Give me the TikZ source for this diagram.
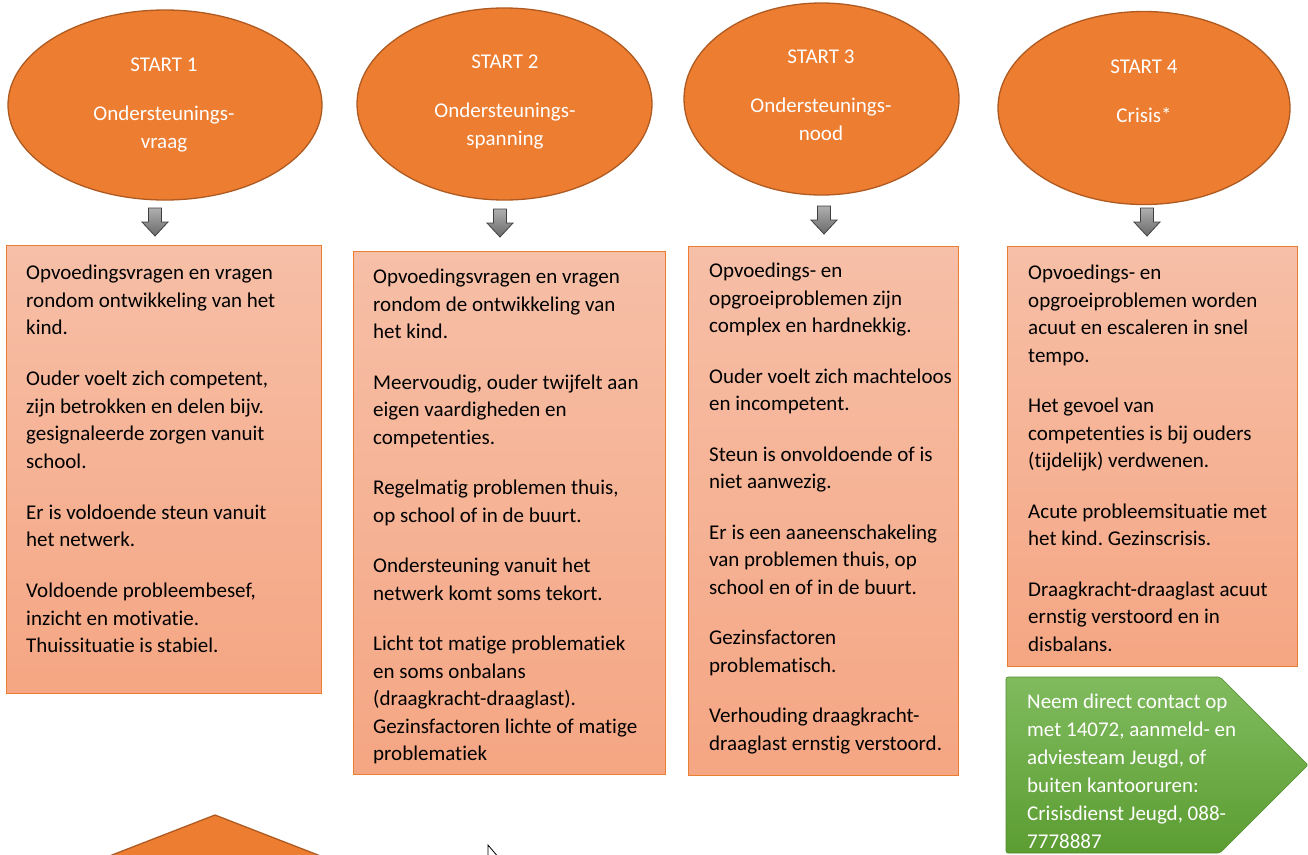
\documentclass[tikz,border=0pt]{standalone}
\usepackage{fontspec}
\setmainfont{Carlito}[Ligatures={NoCommon}]
\usetikzlibrary{shapes.geometric,calc}
\frenchspacing
\definecolor{orng}{HTML}{ED7D31}
\definecolor{orngdark}{HTML}{AE5A21}
\definecolor{boxtop}{RGB}{246,191,167}
\definecolor{boxbot}{RGB}{245,166,131}
\definecolor{boxline}{HTML}{ED7D31}
\definecolor{grntop}{RGB}{128,187,94}
\definecolor{grnbot}{RGB}{92,157,50}
\definecolor{arrtop}{RGB}{175,175,175}
\definecolor{arrbot}{RGB}{105,105,105}
\tikzset{
 ell/.style={ellipse, draw=orngdark, line width=1.3pt, fill=orng, inner sep=0pt},
 ellt/.style={text=white, align=center, inner sep=0pt, anchor=north, font=\fontsize{21}{28}\selectfont},
 boxr/.style={draw=boxline, line width=1pt, top color=boxtop, bottom color=boxbot, anchor=north west, inner sep=0pt},
 boxt/.style={align=left, inner sep=0pt, anchor=north west, text=black, font=\fontsize{21}{27.5}\selectfont},
 grnt/.style={align=left, inner sep=0pt, anchor=north west, text=white, font=\fontsize{21}{28}\selectfont},
 blk/.style={draw=black!75, line width=0.8pt, top color=arrtop, bottom color=arrbot},
}
\newcommand{\blockarrow}[1]{%
  \path[blk] ($(#1)+(-6.5,0)$) -- ($(#1)+(6.5,0)$) -- ($(#1)+(6.5,14)$) -- ($(#1)+(13,14)$) -- ($(#1)+(0,28)$) -- ($(#1)+(-13,14)$) -- ($(#1)+(-6.5,14)$) -- cycle;}
\begin{document}
\begin{tikzpicture}[x=1pt,y=-1pt]
\useasboundingbox (0,0) rectangle (1308,854);
\fill[white] (0,0) rectangle (1308,854);
\clip (0,0) rectangle (1308,854);

% ellipses
\node[ell, minimum width=314pt, minimum height=190pt] (e1) at (165,105) {};
\node[ell, minimum width=295pt, minimum height=192pt] (e2) at (504.5,104) {};
\node[ell, minimum width=275pt, minimum height=192pt] (e3) at (821.5,99) {};
\node[ell, minimum width=292pt, minimum height=193pt] (e4) at (1144,108) {};

\node[ellt] (et1) at (164,58) {START 1\\[21pt]Ondersteunings-\\vraag};
\node[ellt] (et2) at (505,55) {START 2\\[21pt]Ondersteunings-\\spanning};
\node[ellt] (et3) at (821,50) {START 3\\[21pt]Ondersteunings-\\nood};
\node[ellt] (et4) at (1144,60) {START 4\\[21pt]Crisis*};

% block arrows
\coordinate (a1) at (155,208);
\coordinate (a2) at (500,209);
\coordinate (a3) at (824,206);
\coordinate (a4) at (1147,208);
\blockarrow{a1}
\blockarrow{a2}
\blockarrow{a3}
\blockarrow{a4}

% boxes
\node[boxr, minimum width=315pt, minimum height=448pt] (b1) at (6,245) {};
\node[boxr, minimum width=312pt, minimum height=523pt] (b2) at (353,251) {};
\node[boxr, minimum width=270pt, minimum height=529pt] (b3) at (688,246) {};
\node[boxr, minimum width=290pt, minimum height=420pt] (b4) at (1007,246) {};

\node[boxt] (t1) at (26,265) {Opvoedingsvragen en vragen\\rondom ontwikkeling van het\\kind.\\[23.5pt]
Ouder voelt zich competent,\\zijn betrokken en delen bijv.\\gesignaleerde zorgen vanuit\\school.\\[23.5pt]
Er is voldoende steun vanuit\\het netwerk.\\[23.5pt]
Voldoende probleembesef,\\inzicht en motivatie.\\Thuissituatie is stabiel.};

\node[boxt] (t2) at (373,269) {Opvoedingsvragen en vragen\\rondom de ontwikkeling van\\het kind.\\[23pt]
Meervoudig, ouder twijfelt aan\\eigen vaardigheden en\\competenties.\\[23pt]
Regelmatig problemen thuis,\\op school of in de buurt.\\[23pt]
Ondersteuning vanuit het\\netwerk komt soms tekort.\\[23pt]
Licht tot matige problematiek\\en soms onbalans\\(draagkracht-draaglast).\\Gezinsfactoren lichte of matige\\problematiek};

\node[boxt] (t3) at (709,263) {Opvoedings- en\\opgroeiproblemen zijn\\complex en hardnekkig.\\[23pt]
Ouder voelt zich machteloos\\en incompetent.\\[23pt]
Steun is onvoldoende of is\\niet aanwezig.\\[23pt]
Er is een aaneenschakeling\\van problemen thuis, op\\school en of in de buurt.\\[23pt]
Gezinsfactoren\\problematisch.\\[23pt]
Verhouding draagkracht-\\draaglast ernstig verstoord.};

\node[boxt] (t4) at (1028,265) {Opvoedings- en\\opgroeiproblemen worden\\acuut en escaleren in snel\\tempo.\\[23pt]
Het gevoel van\\competenties is bij ouders\\(tijdelijk) verdwenen.\\[23pt]
Acute probleemsituatie met\\het kind. Gezinscrisis.\\[23pt]
Draagkracht-draaglast acuut\\ernstig verstoord en in\\disbalans.};

% green pentagon
\path[top color=grntop, bottom color=grnbot, draw=grnbot!90!black, line width=0.6pt, rounded corners=2pt]
  (1006,677) -- (1220,677) -- (1308,765) -- (1220,853) -- (1006,853) -- cycle;
\node[grnt] (g) at (1027,694) {Neem direct contact op\\met 14072, aanmeld- en\\adviesteam Jeugd, of\\buiten kantooruren:\\Crisisdienst Jeugd, 088-\\7778887};

% bottom triangle
\path[fill=orng, draw=orngdark, line width=1.3pt] (215,815) -- (336,862) -- (94,862) -- cycle;

% small pointer
\path[fill=white, draw=black, line width=0.8pt] (488,845) -- (488,862) -- (499,858) -- cycle;
\end{tikzpicture}
\end{document}
